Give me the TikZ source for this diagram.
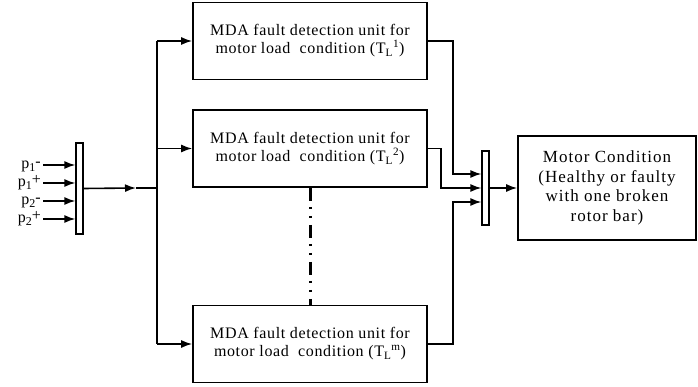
\documentclass[tikz,border=0pt]{standalone}
\usepackage{fontspec}
\setmainfont{Liberation Serif}
\usetikzlibrary{arrows.meta,positioning,calc}

% input name: p, lowered index, raised sign
\newcommand{\inname}[2]{p\raisebox{-2.5pt}[0pt][0pt]{\fontsize{12}{12}\selectfont #1}\raisebox{2pt}[0pt][0pt]{#2}}

\tikzset{
  unit/.style={draw,line width=1.6pt,minimum width=234pt,minimum height=77pt,
    align=center,font=\fontsize{16}{18}\selectfont\addfontfeature{LetterSpace=4}},
  busbar/.style={draw,line width=1.2pt,minimum width=7pt,inner sep=0pt},
  link/.style={line width=1.6pt},
  arr/.style={link,-{Latex[length=11pt,width=8pt]}},
  gapline/.style={line width=3pt,
    dash pattern=on 13pt off 6pt on 2pt off 7pt on 2pt off 7pt},
  inlabel/.style={anchor=base east,inner sep=0pt,font=\fontsize{16}{16}\selectfont},
}

\begin{document}
\begin{tikzpicture}[x=1pt,y=-1pt]
  \useasboundingbox (0,0) rectangle (698,387);

  % input bus
  \node[busbar,minimum height=91pt] (inmux) at (79.5,188.5) {};
  \foreach \n/\y/\t in {1/169/{\inname{1}{-}},
                        2/187/{\inname{1}{+}},
                        3/205/{\inname{2}{-}},
                        4/223/{\inname{2}{+}}}{
    \node[inlabel] (pin\n) at (41,\y) {\t};
    \coordinate (pstart\n) at ($(pin\n.base east)+(2,-4)$);
    \draw[arr] (pstart\n) -- (pstart\n -| inmux.west);
  }

  % detection units
  \node[unit] (unit1) at (310,41)
    {MDA fault detection unit for\\motor load\ \ condition (T\textsubscript{L}\textsuperscript{1})};
  \node[unit] (unit2) at (310,148.5)
    {MDA fault detection unit for\\motor load\ \ condition (T\textsubscript{L}\textsuperscript{2})};
  \node[unit] (unit3) at (310,344)
    {MDA fault detection unit for\\motor load\ \ condition (T\textsubscript{L}\textsuperscript{m})};
  \draw[gapline] (unit2.south) -- (unit3.north);

  % split towards the units
  \coordinate (split) at (157,188);
  \coordinate (mid) at (136,188);
  \draw[arr] (inmux.east) -- (mid);
  \draw[link] (mid) -- (split);
  \draw[link] (split |- unit1) -- (split |- unit3);
  \foreach \u in {unit1,unit2,unit3}
    \draw[arr] (split |- \u) -- (\u.west);

  % output bus and result
  \node[busbar,minimum height=74pt] (outmux) at (485.5,188) {};
  \node[draw,line width=1.6pt,minimum width=178pt,minimum height=104pt,
        align=center,font=\fontsize{17}{19.5}\selectfont\addfontfeature{LetterSpace=6}]
        (result) at (607,188)
    {Motor Condition\\(Healthy or faulty\\with one broken\\rotor bar)};

  \coordinate (jr) at (453,0);
  \coordinate (jl) at (441,0);
  \coordinate (in1) at ([yshift=14pt]outmux.west);
  \coordinate (in3) at ([yshift=-14pt]outmux.west);
  \draw[arr] (unit1.east) -| (jr |- in1) -- (in1);
  \draw[arr] (unit2.east) -| (jl |- outmux.west) -- (outmux.west);
  \draw[arr] (unit3.east) -| (jr |- in3) -- (in3);
  \draw[arr] (outmux.east) -- (result.west);
\end{tikzpicture}
\end{document}
